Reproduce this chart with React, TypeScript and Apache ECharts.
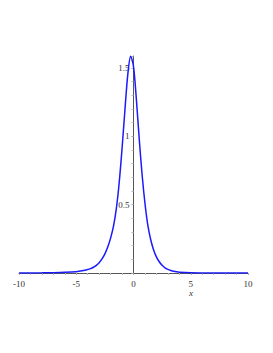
import React, { useEffect, useRef } from "react";
import * as echarts from "echarts";

const xValues = [
  -10, -9, -8, -7, -6, -5, -4.5, -4, -3.75, -3.5, -3.25, -3, -2.75, -2.5, -2.25, -2,
  -1.75, -1.5, -1.25, -1, -0.75, -0.5, -0.25, 0, 0.25, 0.5, 0.75, 1, 1.25, 1.5, 1.75,
  2, 2.25, 2.5, 2.75, 3, 3.25, 3.5, 3.75, 4, 5, 6, 7, 8, 9, 10,
];
const yValues = [
  0.0003, 0.0006, 0.0012, 0.0025, 0.005, 0.01, 0.016, 0.025, 0.032, 0.042, 0.056, 0.075,
  0.103, 0.14, 0.19, 0.255, 0.34, 0.47, 0.66, 0.91, 1.19, 1.45, 1.585, 1.51, 1.27, 0.98,
  0.72, 0.51, 0.35, 0.245, 0.17, 0.118, 0.082, 0.056, 0.038, 0.026, 0.018, 0.013, 0.009,
  0.006, 0.0015, 0.0004, 0.0001, 0, 0, 0,
];
const xTicks = [-10, -5, 0, 5, 10];
const yTicks = [0.5, 1, 1.5];

const FONT = "'Liberation Serif', 'DejaVu Serif', serif";
const GRID_LEFT = 19;
const GRID_RIGHT = 25;
const WIDTH = 273;

export default function App() {
  const ref = useRef<HTMLDivElement>(null);
  useEffect(() => {
    if (!ref.current) return;
    const chart = echarts.init(ref.current, undefined, { renderer: "svg" });
    const plotW = WIDTH - GRID_LEFT - GRID_RIGHT;
    const zeroOffset = -((0 - -10) / 20) * plotW;
    chart.setOption({
      animation: false,
      backgroundColor: "#ffffff",
      grid: { left: GRID_LEFT, right: GRID_RIGHT, top: 56, bottom: 80, containLabel: false },
      xAxis: {
        type: "value",
        min: -10,
        max: 10,
        interval: 5,
        axisLine: { show: true, onZero: true, lineStyle: { color: "#555", width: 1 } },
        axisTick: { show: true, length: 2, lineStyle: { color: "#aaa" } },
        minorTick: { show: true, splitNumber: 5, length: 2, lineStyle: { color: "#bbb" } },
        splitLine: { show: false },
        axisLabel: {
          color: "#333",
          fontFamily: FONT,
          fontSize: 9,
          margin: 6,
          formatter: (v: number) => (xTicks.includes(v) ? String(v) : ""),
        },
      },
      yAxis: {
        type: "value",
        min: 0,
        max: 1.586,
        interval: 0.5,
        position: "left",
        offset: zeroOffset,
        axisLine: { show: true, onZero: false, lineStyle: { color: "#555", width: 1 } },
        axisTick: { show: true, length: 2, lineStyle: { color: "#aaa" } },
        minorTick: { show: true, splitNumber: 5, length: 2, lineStyle: { color: "#bbb" } },
        splitLine: { show: false },
        axisLabel: {
          color: "#333",
          fontFamily: FONT,
          fontSize: 9,
          margin: 4,
          showMaxLabel: false,
          formatter: (v: number) => (yTicks.includes(v) ? String(v) : ""),
        },
      },
      graphic: [
        {
          type: "text",
          left: 189,
          top: 288,
          style: { text: "x", font: `italic 9px ${FONT}`, fill: "#333" },
        },
      ],
      series: [
        {
          type: "line",
          data: xValues.map((x, i) => [x, yValues[i]]),
          smooth: 0.3,
          showSymbol: false,
          lineStyle: { color: "#1a1aff", width: 1.5 },
          z: 3,
        },
      ],
    });
    return () => chart.dispose();
  }, []);
  return <div ref={ref} style={{ width: 273, height: 353, margin: -8 }} />;
}
